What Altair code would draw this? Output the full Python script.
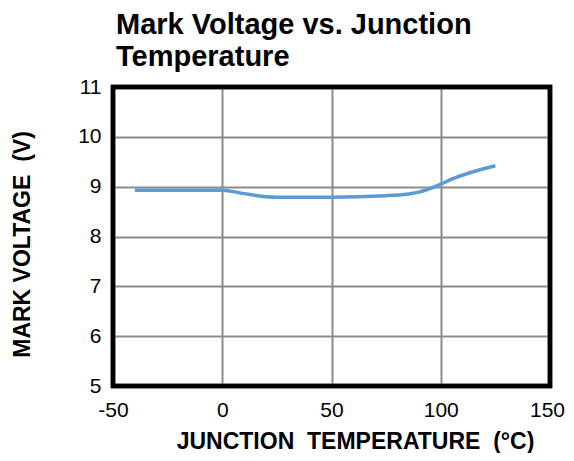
import altair as alt
import pandas as pd

temps = [-40, -20, 0, 10, 20, 25, 50, 75, 85, 90, 95, 100, 105, 125]
volts = [8.93, 8.93, 8.93, 8.86, 8.80, 8.79, 8.79, 8.82, 8.855, 8.89, 8.96, 9.05, 9.15, 9.42]
x_ticks = [-50, 0, 50, 100, 150]
y_ticks = [5, 6, 7, 8, 9, 10, 11]

df = pd.DataFrame({"temp": temps, "volt": volts})

FONT = "Liberation Sans"
W, H = 437, 299

line = alt.Chart(df).mark_line(
    color="#5B9BD5", strokeWidth=3.5, interpolate="monotone"
).encode(
    x=alt.X("temp:Q", scale=alt.Scale(domain=[-50, 150], nice=False),
            axis=alt.Axis(values=x_ticks, title="JUNCTION\u00a0\u00a0TEMPERATURE\u00a0\u00a0(\u00b0C)",
                          titleX=242, titleY=55, titleBaseline="middle", titleAlign="center",
                          labelPadding=13, labelFlush=False, labelExpr="'' + datum.value",
                          labelOffset={"expr": "datum.value == 150 ? -3 : 0"})),
    y=alt.Y("volt:Q", scale=alt.Scale(domain=[5, 11], nice=False, zero=False),
            axis=alt.Axis(values=y_ticks, title="MARK\u00a0VOLTAGE\u00a0\u00a0(V)",
                          titleX=-91, titleY=157, titleAngle=-90, titleAlign="center",
                          titleBaseline="middle", labelPadding=12, labelFlush=False)),
)

border = alt.Chart(pd.DataFrame({"k": [0]})).mark_rect(
    filled=False, stroke="black", strokeWidth=4.5
).encode(
    x=alt.value(0), x2=alt.value(W), y=alt.value(0), y2=alt.value(H)
)

chart = alt.layer(line, border).properties(
    width=W,
    height=H,
    autosize=alt.AutoSizeParams(type="none"),
    padding={"left": 105, "top": 79, "right": 16, "bottom": 67},
    title=alt.TitleParams(
        text=["Mark Voltage vs. Junction", "Temperature"],
        anchor="start", frame="group", fontSize=29, font=FONT, fontWeight="bold",
        lineHeight=32, offset=4, color="black", dx=3,
    ),
).configure_view(
    stroke="black", strokeWidth=4.5
).configure_axis(
    grid=True, gridColor="#8c8c8c", gridWidth=2, gridOpacity=1,
    domain=False, ticks=False, tickSize=0,
    labelFont=FONT, labelFontSize=21, labelColor="black",
    titleFont=FONT, titleFontSize=23, titleFontWeight="bold", titleColor="black",
)

chart.save("out.html", embed_options={"renderer": "svg", "actions": False})
